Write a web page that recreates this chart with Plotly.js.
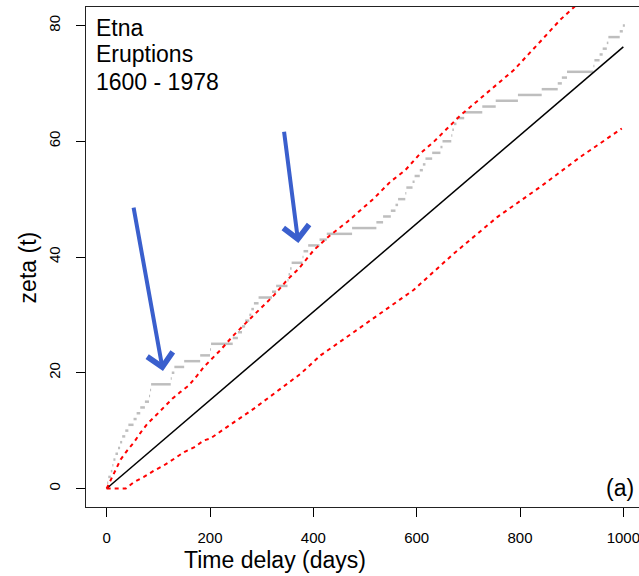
<!DOCTYPE html>
<html>
<head>
<meta charset="utf-8">
<script src="https://cdn.plot.ly/plotly-3.0.1.min.js"></script>
<style>
html, body { margin: 0; padding: 0; overflow: hidden; background: #fff; }
#chart { width: 646px; height: 576px; }
</style>
</head>
<body>
<div id="chart"></div>
<script>
// Start of each step level (days) and the level (zeta) reached
const stepStart = [0, 1, 3, 8, 11, 13, 17, 22, 26, 30, 36, 42, 52, 58, 65, 74, 82, 84, 86, 124,
  126, 131, 150, 181, 200, 202, 244, 254, 262, 268, 276, 280, 285, 294, 320, 328, 350, 352, 355, 358,
  379, 381, 390, 412, 426, 475, 522, 535, 550, 559, 564, 578, 580, 592, 596, 606, 612, 617, 630, 646,
  650, 667, 669, 672, 677, 692, 727, 753, 796, 842, 873, 881, 891, 942, 944, 954, 960, 968, 971, 993,
  999, 1003];
const stepLevel = [0, 1, 2, 3, 4, 5, 6, 7, 8, 9, 10, 11, 12, 13, 14, 15, 16, 17, 18, 19,
  20, 21, 22, 23, 24, 25, 26, 27, 28, 29, 30, 31, 32, 33, 34, 35, 36, 37, 38, 39,
  40, 41, 42, 43, 44, 45, 46, 47, 48, 49, 50, 51, 52, 53, 54, 55, 56, 57, 58, 59,
  60, 61, 62, 63, 64, 65, 66, 67, 68, 69, 70, 71, 72, 73, 74, 75, 76, 77, 78, 79, 80];

// Upper red bound
const upperX = [0, 4.5, 17, 27, 40, 53, 66, 79, 95, 111, 127, 143, 159, 175, 188, 220, 246, 275, 301, 324,
  349, 372, 401, 433, 466, 495, 517, 549, 578, 607, 633, 685, 736, 788, 839, 878, 906];
const upperY = [0, 0.8, 3.1, 5.0, 6.6, 8.0, 9.7, 11.2, 12.6, 14.1, 15.5, 16.7, 17.8, 19.5, 21, 23.9, 26.5, 29.1, 31.4, 33.4,
  36, 38, 41.2, 43.8, 46.1, 48.4, 50.1, 53, 55, 57.9, 59.9, 64.5, 68.3, 72.3, 77.2, 81, 83.3];

// Lower red bound
const lowerX = [0, 21, 37, 53, 72, 92, 111, 130, 150, 169, 188, 200, 285, 375, 414, 478, 543, 594, 672, 756, 839, 917, 997];
const lowerY = [0, 0, 0, 1.1, 2.0, 3.1, 4.0, 5.1, 6.3, 7.1, 8.3, 8.6, 13.8, 19.8, 23, 27, 31.1, 34.3, 40.6, 46.9, 52.1, 57.3, 62.2];

// Expected (black line)
const meanX = [0, 1000];
const meanY = [0, 76.3];

// Arrows: tail and tip positions
const arrowTailX = [51.6, 343];
const arrowTailY = [48.8, 61.9];
const arrowTipX = [109, 371];
const arrowTipY = [20.3, 42.4];

const xTicks = [0, 200, 400, 600, 800, 1000];
const yTicks = [0, 20, 40, 60, 80];

const labelLines = ["Etna", "Eruptions", "1600 - 1978"];
const labelY = [79.6, 75.0, 70.3];

// Build step segments (horizontal only)
const segX = [], segY = [];
for (let i = 0; i < stepLevel.length; i++) {
  segX.push(stepStart[i], stepStart[i + 1], null);
  segY.push(stepLevel[i], stepLevel[i], null);
}

const FONT = "Liberation Sans, Arial, Helvetica, sans-serif";

const traces = [
  { x: segX, y: segY, type: 'scatter', mode: 'lines', connectgaps: false,
    line: { color: '#bebebe', width: 2.5 }, hoverinfo: 'skip' },
  { x: meanX, y: meanY, type: 'scatter', mode: 'lines',
    line: { color: '#000000', width: 1.5 } },
  { x: upperX, y: upperY, type: 'scatter', mode: 'lines',
    line: { color: '#ff0000', width: 2, dash: '4px,4px' } },
  { x: lowerX, y: lowerY, type: 'scatter', mode: 'lines',
    line: { color: '#ff0000', width: 2, dash: '4px,4px' } }
];

const annotations = [];
for (let i = 0; i < labelLines.length; i++) {
  annotations.push({ x: -24.6, y: labelY[i], xref: 'x', yref: 'y', text: labelLines[i],
    showarrow: false, xanchor: 'left', yanchor: 'middle',
    font: { family: FONT, size: 23, color: '#000' } });
}
annotations.push({ x: 1024, y: 0, xref: 'x', yref: 'y', text: '(a)', showarrow: false,
  xanchor: 'right', yanchor: 'middle', font: { family: FONT, size: 23, color: '#000' } });
annotations.push({ x: 326.7, y: -0.106, xref: 'x', yref: 'paper', text: 'Time delay (days)',
  showarrow: false, xanchor: 'center', yanchor: 'middle', font: { family: FONT, size: 23, color: '#000' } });
annotations.push({ x: -0.104, y: 38.2, xref: 'paper', yref: 'y', text: 'zeta (t)', textangle: -90,
  showarrow: false, xanchor: 'center', yanchor: 'middle', font: { family: FONT, size: 23, color: '#000' } });
for (let i = 0; i < arrowTipX.length; i++) {
  annotations.push({ x: arrowTipX[i], y: arrowTipY[i], ax: arrowTailX[i], ay: arrowTailY[i],
    xref: 'x', yref: 'y', axref: 'x', ayref: 'y', text: '', showarrow: true,
    arrowhead: 4, arrowsize: 1.25, arrowwidth: 4, arrowcolor: '#3A5FCD', standoff: 0, startstandoff: 0,
    font: { size: 1 } });
}

const layout = {
  width: 646, height: 576,
  margin: { l: 86, r: 2, t: 7, b: 69, pad: 0 },
  paper_bgcolor: '#fff', plot_bgcolor: '#fff',
  showlegend: false,
  xaxis: {
    range: [-40, 1040], tickvals: xTicks, ticktext: xTicks.map(String),
    ticks: 'outside', ticklen: 9, tickwidth: 1, tickcolor: '#000',
    showline: true, mirror: true, linecolor: '#222', linewidth: 1.3,
    showgrid: false, zeroline: false, ticklabelstandoff: 8,
    tickfont: { family: FONT, size: 15, color: '#000' }
  },
  yaxis: {
    range: [-3.2, 83.2], tickvals: yTicks, ticktext: yTicks.map(String),
    ticks: 'outside', ticklen: 9, tickwidth: 1, tickcolor: '#000', tickangle: -90,
    showline: true, mirror: true, linecolor: '#222', linewidth: 1.3,
    showgrid: false, zeroline: false, ticklabelstandoff: 10,
    tickfont: { family: FONT, size: 15, color: '#000' }
  },
  annotations: annotations
};

Plotly.newPlot('chart', traces, layout, { displayModeBar: false, staticPlot: true });
</script>
</body>
</html>
